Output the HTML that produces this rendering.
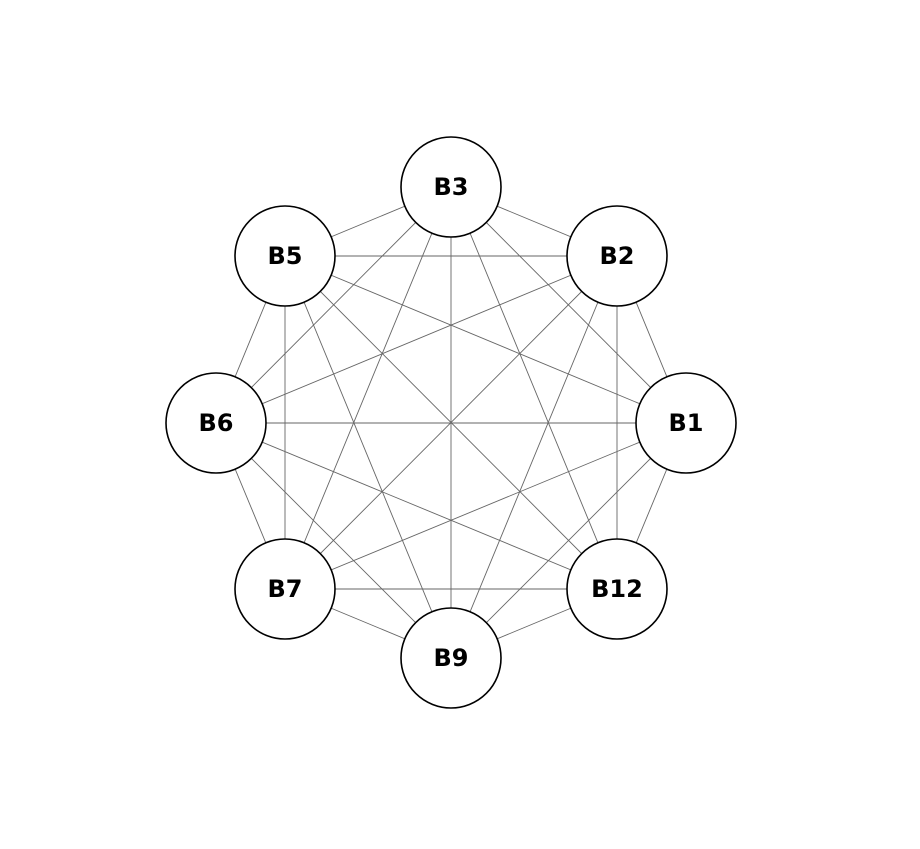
<!DOCTYPE html>
<html><head><meta charset="utf-8"><style>html,body{margin:0;padding:0;background:#fff}svg{display:block}</style></head>
<body>
<svg width="920" height="849" viewBox="0 0 920 849" xmlns="http://www.w3.org/2000/svg">
<g id="edges" stroke="#666" stroke-width="0.9"></g>
<g id="nodes"></g>
<script>
var nodes=[["B3",451,187],["B2",617,256],["B1",686,423],["B12",617,589],["B9",451,658],["B7",285,589],["B6",216,423],["B5",285,256]];
var ns="http://www.w3.org/2000/svg",e=document.getElementById("edges"),g=document.getElementById("nodes");
for(var i=0;i<8;i++)for(var j=i+1;j<8;j++){var l=document.createElementNS(ns,"line");l.setAttribute("x1",nodes[i][1]);l.setAttribute("y1",nodes[i][2]);l.setAttribute("x2",nodes[j][1]);l.setAttribute("y2",nodes[j][2]);e.appendChild(l);}
nodes.forEach(function(n){var c=document.createElementNS(ns,"circle");c.setAttribute("cx",n[1]);c.setAttribute("cy",n[2]);c.setAttribute("r",50);c.setAttribute("fill","#fff");c.setAttribute("stroke","#000");c.setAttribute("stroke-width","1.6");g.appendChild(c);
var t=document.createElementNS(ns,"text");t.setAttribute("x",n[1]);t.setAttribute("y",n[2]+8);t.setAttribute("text-anchor","middle");t.setAttribute("font-family","DejaVu Sans, Liberation Sans, sans-serif");t.setAttribute("font-weight","bold");t.setAttribute("font-size","24");t.textContent=n[0];g.appendChild(t);});
</script>
</svg>
</body></html>
